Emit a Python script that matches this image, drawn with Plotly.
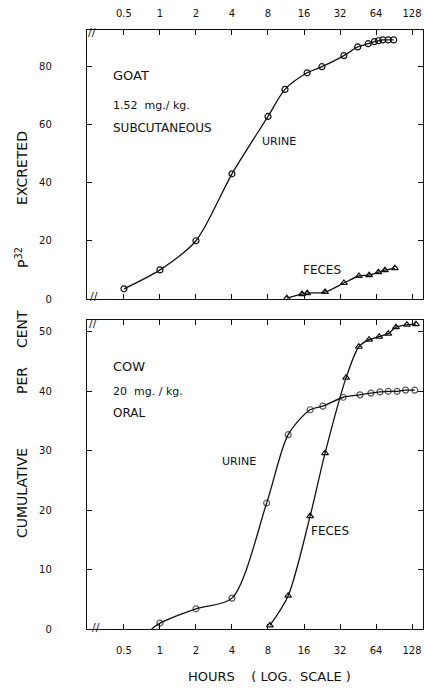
import plotly.graph_objects as go

# ---- data ----
hour_ticks = [0.5, 1, 2, 4, 8, 16, 32, 64, 128]
hour_labels = ["0.5", "1", "2", "4", "8", "16", "32", "64", "128"]

goat_urine_h = [0.5, 1, 2, 4, 8, 11.1, 17, 22.6, 34.5, 45, 55, 62, 67, 73, 81, 90]
goat_urine_v = [3.5, 10, 20, 43, 62.7, 72, 77.7, 79.8, 83.6, 86.6, 87.7, 88.4, 88.7, 89, 89, 89]

goat_feces_h = [11.5, 15.4, 17, 24, 34.5, 46, 56, 67, 76, 92]
goat_feces_v = [0.3, 1.7, 2.0, 2.4, 5.5, 7.9, 8.2, 9.2, 9.9, 10.6]

cow_urine_h = [0.85, 1, 2, 4, 7.8, 11.8, 18, 23, 34, 47, 58, 69, 81, 96, 113, 135]
cow_urine_v = [0, 1.0, 3.4, 5.2, 21.2, 32.7, 36.9, 37.5, 39.0, 39.4, 39.7, 39.9, 40.0, 40.0, 40.2, 40.2]

cow_feces_h = [8.3, 11.8, 18, 24, 36, 46, 56, 68, 81, 94, 116, 138]
cow_feces_v = [0.6, 5.6, 19, 29.6, 42.3, 47.5, 48.7, 49.2, 49.7, 50.8, 51.2, 51.3]

top_yticks = [0, 20, 40, 60, 80]
bot_yticks = [0, 10, 20, 30, 40, 50]

# ---- figure ----
W, H = 424, 690
L, R, T, B = 87, 1, 30, 61
pw, ph = W - L - R, H - T - B

def fx(px):
    return (px - L) / pw

def fy(py):
    return (H - B - py) / ph

FONT = "DejaVu Sans"
BLACK = "#111111"

fig = go.Figure()

line = dict(color=BLACK, width=1.3, shape="spline", smoothing=0.8)
circ = dict(symbol="circle-open", size=6, color=BLACK, line=dict(width=1.2, color=BLACK))
tri = dict(symbol="triangle-up-open", size=6, color=BLACK, line=dict(width=1.2, color=BLACK))

fig.add_trace(go.Scatter(x=goat_urine_h, y=goat_urine_v, mode="lines+markers",
                         line=line, marker=circ, xaxis="x", yaxis="y", showlegend=False))
fig.add_trace(go.Scatter(x=goat_feces_h, y=goat_feces_v, mode="lines+markers",
                         line=line, marker=tri, xaxis="x", yaxis="y", showlegend=False))
cu_sizes = [0] + [6] * (len(cow_urine_h) - 1)
fig.add_trace(go.Scatter(x=cow_urine_h, y=cow_urine_v, mode="lines+markers",
                         line=line, marker=dict(circ, size=cu_sizes), xaxis="x2", yaxis="y2",
                         showlegend=False))
fig.add_trace(go.Scatter(x=cow_feces_h, y=cow_feces_v, mode="lines+markers",
                         line=line, marker=tri, xaxis="x2", yaxis="y2", showlegend=False))

xr = [-0.610, 2.199]
tickfont = dict(family=FONT, size=10, color=BLACK)
common_x = dict(type="log", range=xr, tickvals=hour_ticks, ticktext=hour_labels,
                ticks="inside", ticklen=5, tickcolor=BLACK, showline=True, linecolor=BLACK,
                linewidth=1.3, mirror="allticks", showgrid=False, zeroline=False,
                tickfont=tickfont, automargin=False)
common_y = dict(ticks="inside", ticklen=5, tickcolor=BLACK, showline=True, linecolor=BLACK,
                linewidth=1.3, mirror="allticks", showgrid=False, zeroline=False,
                tickfont=tickfont, ticklabelstandoff=32, automargin=False)

top_dom = [fy(299), 1.0]
bot_dom = [0.0, fy(320)]

fig.update_layout(
    width=W, height=H,
    margin=dict(l=L, r=R, t=T, b=B, autoexpand=False),
    paper_bgcolor="white", plot_bgcolor="white",
    xaxis=dict(common_x, side="top", anchor="y", ticklabelstandoff=8),
    yaxis=dict(common_y, domain=top_dom, range=[0, 92.4], tickvals=top_yticks, anchor="x"),
    xaxis2=dict(common_x, side="bottom", anchor="y2", ticklabelstandoff=12),
    yaxis2=dict(common_y, domain=bot_dom, range=[0, 52.0], tickvals=bot_yticks, anchor="x2"),
)

def F(size):
    return dict(family=FONT, size=size, color=BLACK)

def text(px, py, s, font, xanchor="left", angle=0):
    fig.add_annotation(x=fx(px), y=fy(py), xref="paper", yref="paper", text=s,
                       showarrow=False, xanchor=xanchor, yanchor="middle", font=font,
                       textangle=angle)

text(111, 75, "GOAT", F(13))
text(111, 105, "1.52  mg./ kg.", F(11))
text(111, 128, "SUBCUTANEOUS", F(12))
text(260, 141, "URINE", F(11))
text(301, 270, "FECES", F(12))

text(111, 366, "COW", F(13))
text(111, 391, "20  mg. / kg.", F(11))
text(111, 413, "ORAL", F(12))
text(220, 461, "URINE", F(11))
text(309, 531, "FECES", F(12))

text(269, 677, "HOURS    ( LOG.  SCALE )", F(13), xanchor="center")

# vertical axis title, word by word (wide spacing as in the original)
for s, py in [("CUMULATIVE", 493), ("PER", 381), ("CENT", 329),
              ("P<sup>32</sup>", 258), ("EXCRETED", 168)]:
    text(22, py, s, F(14), xanchor="center", angle=-90)

# axis break marks
for (px, py) in [(94, 296), (92, 33), (93, 323), (96, 627)]:
    text(px, py, "//", F(11), xanchor="center")

fig.write_html("out.html", config={"displayModeBar": False},
               post_script="document.body.style.margin='0';document.body.style.overflow='hidden';")
